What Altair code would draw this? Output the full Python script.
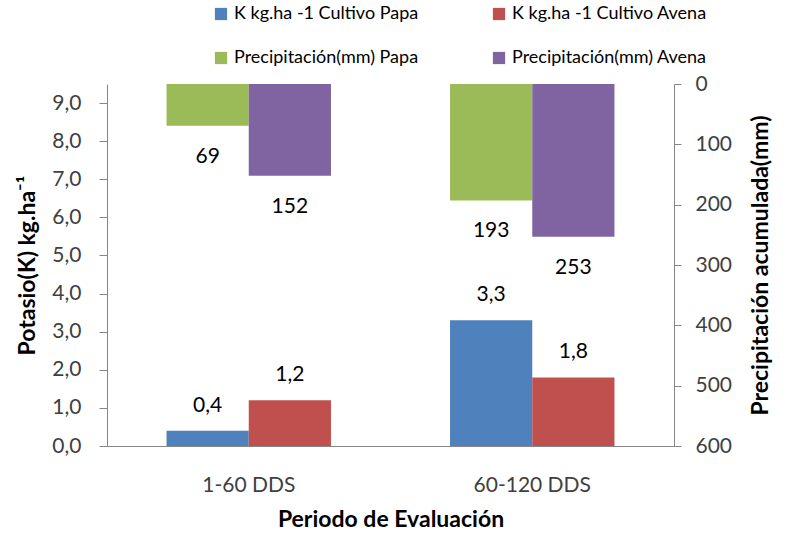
import altair as alt
import pandas as pd

# Periodos de evaluación y cultivos
periodos = ["1-60 DDS", "60-120 DDS"]
cultivos = ["Papa", "Avena"]

# Potasio (K kg.ha-1) por cultivo
k_papa = [0.4, 3.3]
k_avena = [1.2, 1.8]

# Precipitación acumulada (mm) por cultivo
prec_papa = [69, 193]
prec_avena = [152, 253]

series = [
    "K kg.ha -1 Cultivo Papa",
    "K kg.ha -1 Cultivo Avena",
    "Precipitación(mm) Papa",
    "Precipitación(mm) Avena",
]
colores = ["#4F81BD", "#C0504D", "#9BBB59", "#8064A2"]

FONT = "Lato"
AXIS_GRAY = "#868686"
TEXT_COLOR = "#404040"
LABEL_SIZE = 21
TITLE_SIZE = 23

rows_k = []
rows_p = []
for i, per in enumerate(periodos):
    rows_k.append({"periodo": per, "cultivo": "Papa", "serie": series[0], "valor": k_papa[i]})
    rows_k.append({"periodo": per, "cultivo": "Avena", "serie": series[1], "valor": k_avena[i]})
    rows_p.append({"periodo": per, "cultivo": "Papa", "serie": series[2], "valor": prec_papa[i]})
    rows_p.append({"periodo": per, "cultivo": "Avena", "serie": series[3], "valor": prec_avena[i]})
df_k = pd.DataFrame(rows_k)
df_p = pd.DataFrame(rows_p)

x_enc = alt.X(
    "periodo:N",
    sort=periodos,
    scale=alt.Scale(paddingInner=0.42, paddingOuter=0.21),
    axis=alt.Axis(
        title="Periodo de Evaluación",
        labelAngle=0,
        ticks=False,
        tickSize=0,
        labelPadding=28,
        titlePadding=13,
        domainColor=AXIS_GRAY,
    ),
)
xoff = alt.XOffset("cultivo:N", sort=cultivos, scale=alt.Scale(paddingInner=0, paddingOuter=0))
color_enc = alt.Color(
    "serie:N",
    scale=alt.Scale(domain=series, range=colores),
    legend=alt.Legend(
        title=None,
        orient="none",
        direction="horizontal",
        legendX=105,
        legendY=-79,
        columns=2,
        columnPadding=71,
        rowPadding=26,
        symbolType="square",
        symbolSize=150,
        symbolStrokeWidth=0,
        labelFontSize=18,
        labelFont=FONT,
        labelColor="#000000",
        labelOffset=4,
        labelLimit=400,
    ),
)

# Barras de potasio (eje izquierdo)
y_k = alt.Y(
    "valor:Q",
    scale=alt.Scale(domain=[0, 9.5], nice=False, zero=True),
    axis=alt.Axis(
        title="Potasio(K) kg.ha⁻¹",
        values=list(range(10)),
        labelExpr="replace(format(datum.value, '.1f'), '.', ',')",
        grid=False,
        tickSize=8,
        labelPadding=18,
        titlePadding=12,
        domainColor=AXIS_GRAY,
        tickColor=AXIS_GRAY,
    ),
)
k_bars = alt.Chart(df_k).mark_bar().encode(x=x_enc, xOffset=xoff, y=y_k, color=color_enc)
k_text = (
    alt.Chart(df_k)
    .transform_calculate(lbl="replace(format(datum.valor, '.1f'), '.', ',')")
    .mark_text(dy=-25, fontSize=LABEL_SIZE, font=FONT, color="#000000", baseline="middle")
    .encode(x=x_enc, xOffset=xoff, y=alt.Y("valor:Q"), text="lbl:N")
)
k_layer = alt.layer(k_bars, k_text)

# Barras de precipitación (eje derecho, invertido)
y_p = alt.Y(
    "valor:Q",
    scale=alt.Scale(domain=[0, 600], reverse=True, nice=False),
    axis=alt.Axis(
        title="Precipitación acumulada(mm)",
        orient="right",
        values=list(range(0, 700, 100)),
        grid=False,
        tickSize=7,
        labelPadding=14,
        titlePadding=41,
        titleAngle=270,
        domainColor=AXIS_GRAY,
        tickColor=AXIS_GRAY,
    ),
)
p_bars = alt.Chart(df_p).mark_bar().encode(x=x_enc, xOffset=xoff, y=y_p, color=color_enc)
p_text = (
    alt.Chart(df_p)
    .mark_text(dy=31, fontSize=LABEL_SIZE, font=FONT, color="#000000", baseline="middle")
    .encode(x=x_enc, xOffset=xoff, y=alt.Y("valor:Q"), text=alt.Text("valor:Q", format="d"))
)
p_layer = alt.layer(p_bars, p_text)

chart = (
    alt.layer(k_layer, p_layer)
    .resolve_scale(y="independent")
    .properties(
        width=567,
        height=362,
        autosize=alt.AutoSizeParams(type="none"),
        padding={"left": 107, "top": 84, "right": 122, "bottom": 89},
    )
    .configure_view(stroke=None)
    .configure_axis(
        labelFont=FONT,
        labelFontSize=LABEL_SIZE,
        labelColor=TEXT_COLOR,
        titleFont=FONT,
        titleFontSize=TITLE_SIZE,
        titleFontWeight="bold",
        titleColor="#000000",
    )
)

chart.save("out.html", embed_options={"renderer": "svg", "actions": False})
